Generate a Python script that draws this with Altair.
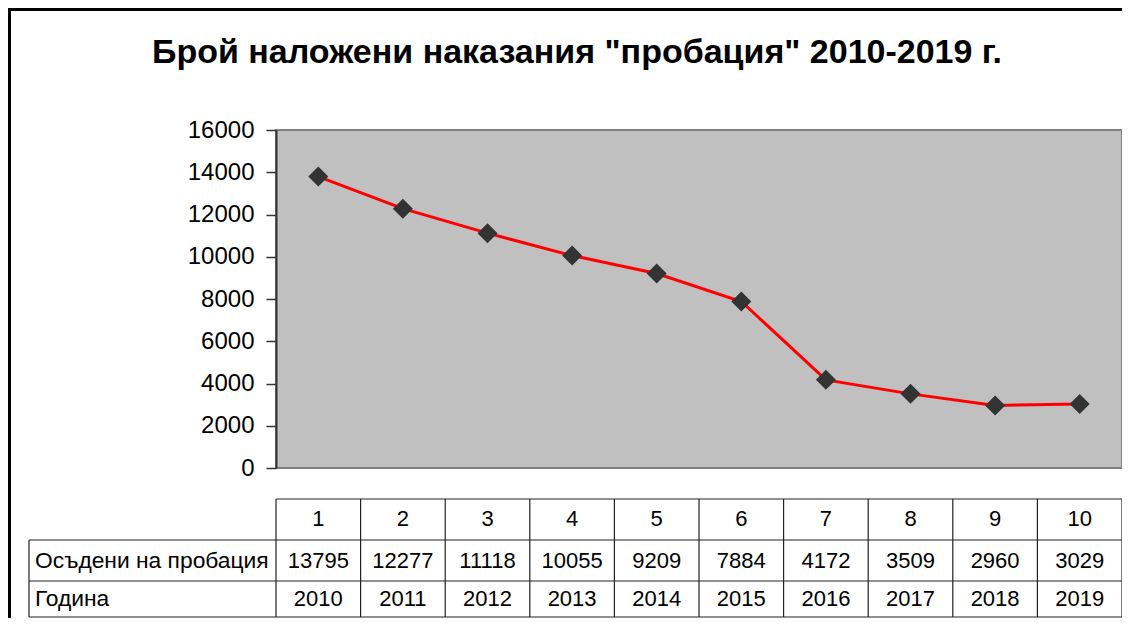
import altair as alt
import pandas as pd

# ---- data ----
columns = [1, 2, 3, 4, 5, 6, 7, 8, 9, 10]
years = [2010, 2011, 2012, 2013, 2014, 2015, 2016, 2017, 2018, 2019]
convicted = [13795, 12277, 11118, 10055, 9209, 7884, 4172, 3509, 2960, 3029]
row_labels = ["Осъдени на пробация", "Година"]
y_ticks = [0, 2000, 4000, 6000, 8000, 10000, 12000, 14000, 16000]
title_text = 'Брой наложени наказания "пробация" 2010-2019 г.'

df = pd.DataFrame({"col": columns, "year": years, "value": convicted})
bounds = pd.DataFrame({"b": [c - 0.5 for c in columns] + [columns[-1] + 0.5]})

FONT = "Liberation Sans"
W, H = 846, 338

xscale = alt.Scale(domain=[0.5, 10.5], nice=False, zero=False)
yscale = alt.Scale(domain=[0, 16000], nice=False)

base = alt.Chart(df)

line = base.mark_line(color="#FF0000", strokeWidth=3).encode(
    x=alt.X("col:Q", scale=xscale, axis=None),
    y=alt.Y(
        "value:Q",
        scale=yscale,
        axis=alt.Axis(
            values=y_ticks,
            title=None,
            grid=False,
            labelFontSize=24,
            labelFont=FONT,
            labelColor="#000000",
            tickSize=10,
            tickColor="#333333",
            tickWidth=1.5,
            domainColor="#333333",
            domainWidth=2,
            labelPadding=12,
            format="d",
        ),
    ),
)

points = base.mark_point(
    shape="diamond", filled=True, color="#333333", size=400, opacity=1
).encode(x=alt.X("col:Q", scale=xscale), y=alt.Y("value:Q", scale=yscale))

# ---- title ----
title = alt.Chart(alt.Data(values=[{"t": title_text}])).mark_text(
    font=FONT, fontSize=34, fontWeight="bold", baseline="alphabetic", align="center", color="#000000"
).encode(x=alt.value(301), y=alt.value(-67), text="t:N")

# ---- outer border ----
border = alt.Chart(alt.Data(values=[{"a": 1}])).mark_rect(
    filled=False, stroke="#000000", strokeWidth=3
).encode(x=alt.value(-266.5), x2=alt.value(W + 40), y=alt.value(-120.5), y2=alt.value(H + 200))

# ---- data table ----
R0, R1, R2, R3 = 369, 410, 451, 487
LEFT = -247

txt = dict(font=FONT, fontSize=22, color="#000000", baseline="middle", align="center")
row_idx = base.mark_text(**txt).encode(x=alt.X("col:Q", scale=xscale), y=alt.value(389), text="col:Q")
row_val = base.mark_text(**txt).encode(x=alt.X("col:Q", scale=xscale), y=alt.value(431), text="value:Q")
row_year = base.mark_text(**txt).encode(x=alt.X("col:Q", scale=xscale), y=alt.value(469), text="year:Q")

labels_df = pd.DataFrame({"lab": row_labels, "yy": [431, 469]})
row_lab = alt.Chart(labels_df).mark_text(
    font=FONT, fontSize=22.8, color="#000000", baseline="middle", align="left"
).encode(x=alt.value(LEFT + 6), y=alt.Y("yy:Q", scale=None), text="lab:N")

vlines = alt.Chart(bounds).mark_rule(color="#222222", strokeWidth=1.2).encode(
    x=alt.X("b:Q", scale=xscale), y=alt.value(R0), y2=alt.value(R3)
)
lab_left = alt.Chart(alt.Data(values=[{"a": 1}])).mark_rule(color="#222222", strokeWidth=1.2).encode(
    x=alt.value(LEFT), x2=alt.value(LEFT), y=alt.value(R1), y2=alt.value(R3)
)
hl_df = pd.DataFrame({"yy": [R0, R1, R2, R3], "x0": [0, LEFT, LEFT, LEFT]})
hlines = alt.Chart(hl_df).mark_rule(color="#222222", strokeWidth=1.2).encode(
    x=alt.X("x0:Q", scale=None), x2=alt.value(W + 2), y=alt.Y("yy:Q", scale=None)
)

chart = (
    alt.layer(border, title, line, points, vlines, lab_left, hlines, row_idx, row_val, row_year, row_lab)
    .properties(
        width=W,
        height=H,
        autosize=alt.AutoSizeParams(type="none"),
        padding={"left": 268, "top": 122, "right": 0, "bottom": 150},
    )
    .configure(background="#FFFFFF")
    .configure_view(fill="#C0C0C0", stroke="#808080", strokeWidth=2)
)

chart.save("out.html", embed_options={"renderer": "svg", "actions": False})
